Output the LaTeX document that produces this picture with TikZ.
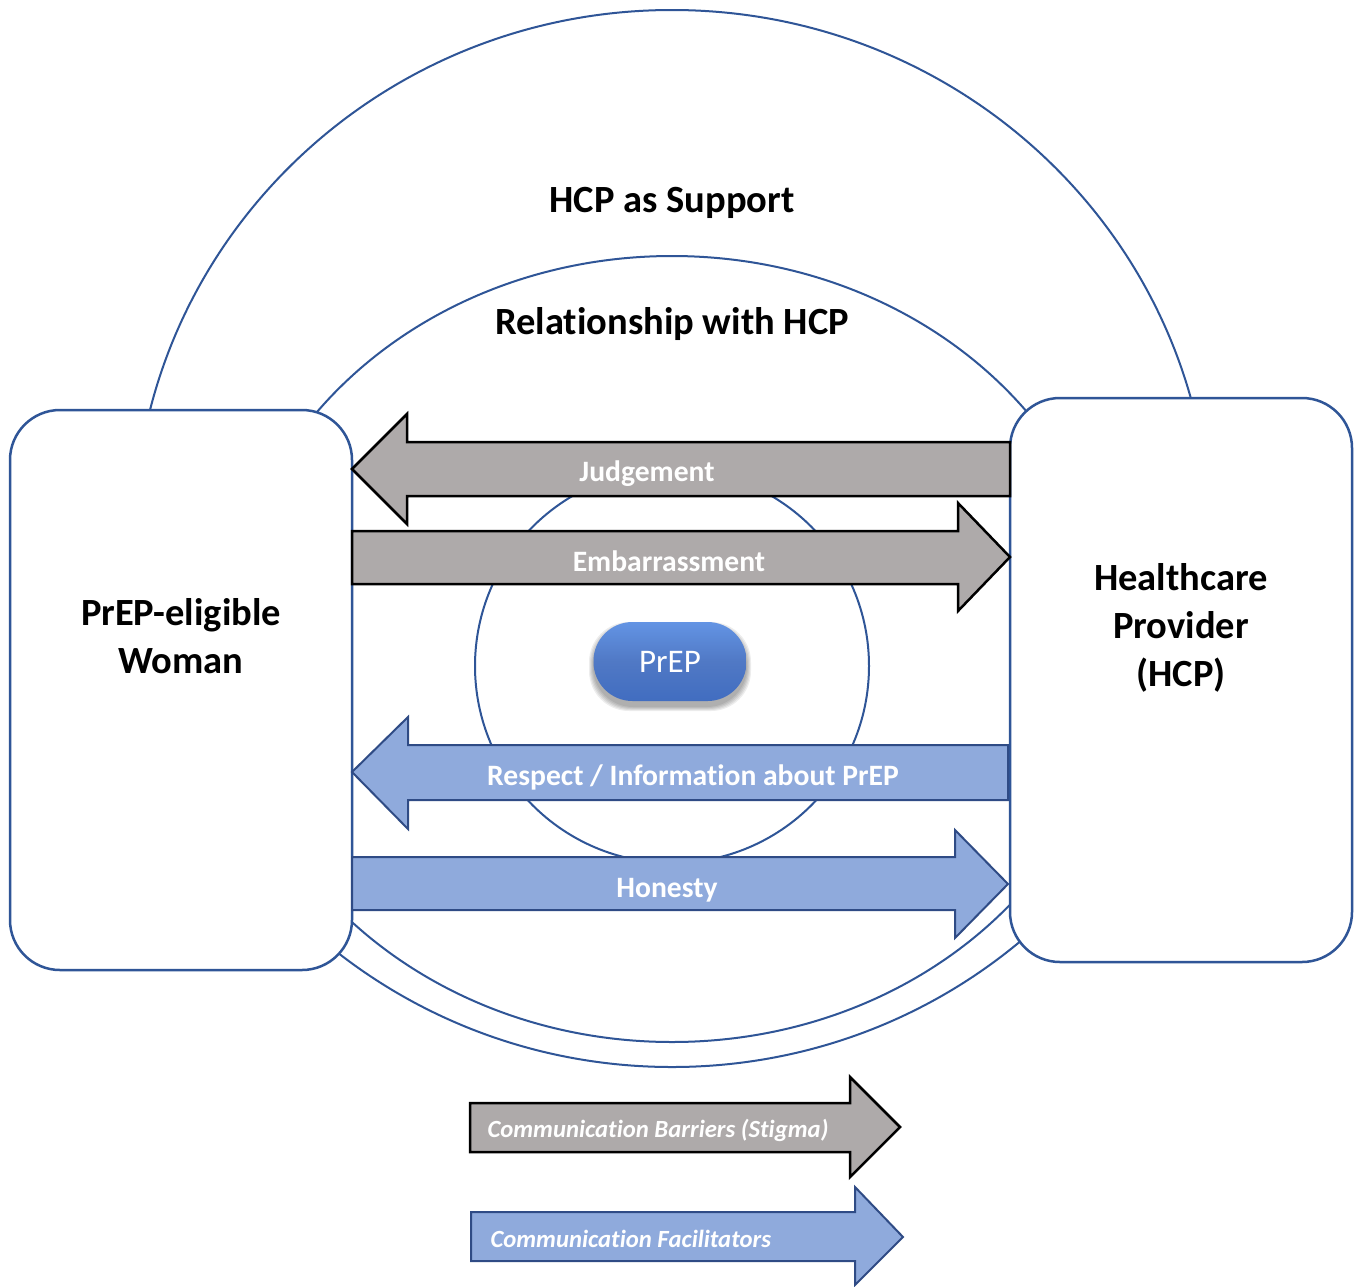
\documentclass[tikz,border=0pt]{standalone}
\usepackage{fontspec}
\setmainfont{Carlito}[Ligatures={NoCommon}]
\definecolor{ringblue}{HTML}{2F5597}
\definecolor{gfill}{HTML}{AEAAAA}
\definecolor{bfill}{HTML}{8FAADC}
\definecolor{bline}{HTML}{2F4B85}
\definecolor{pilltop}{HTML}{6394E4}
\definecolor{pillbot}{HTML}{416DC0}
\begin{document}
\begin{tikzpicture}[x=1pt,y=-1pt,
  ring/.style={draw=ringblue, line width=2pt},
  sidebox/.style={draw=ringblue, line width=2.5pt, fill=white, rounded corners=50pt},
  grayarrow/.style={draw=black, line width=2.5pt, fill=gfill, line join=miter},
  bluearrow/.style={draw=bline, line width=2pt, fill=bfill, line join=miter},
  title/.style={font=\fontsize{38.5}{48}\selectfont\bfseries, align=center},
  arrlabel/.style={font=\fontsize{29.6}{34}\selectfont\bfseries, text=white},
  leglabel/.style={font=\fontsize{24.7}{30}\selectfont\bfseries\itshape, text=white, anchor=west},
  pillshadow/.style={fill=black, fill opacity=0.07, rounded corners=40pt},
  pill/.style={minimum width=153pt, minimum height=79pt, rounded corners=39pt,
    top color=pilltop, bottom color=pillbot, middle color=pillbot!92!white,
    text=white, inner sep=0pt, font=\fontsize{33}{38}\selectfont}
]
\useasboundingbox (0,0) rectangle (1360,1286);
\fill[white] (0,0) rectangle (1360,1286);

% rings
\draw[ring] (672,538.5) ellipse [x radius=538, y radius=528.5];
\draw[ring] (672,649) ellipse [x radius=445, y radius=393];
\draw[ring] (672,666) circle [radius=197];

% side boxes
\node[sidebox, minimum width=342pt, minimum height=560pt] (woman) at (181,690) {};
\node[sidebox, minimum width=342pt, minimum height=564pt] (hcp) at (1181,680) {};
\node[title] (womanlab) at (181,636) {PrEP-eligible\\Woman};
\node[title] (hcplab) at (1181,627.5) {Healthcare\\Provider\\(HCP)};

% ring titles
\node[title] (support) at (672,203) {HCP as Support};
\node[title] (relation) at (672,324) {Relationship with HCP};

% arrows
\draw[grayarrow] (1010,442) -- (407,442) -- (407,414) -- (352,469) -- (407,524) -- (407,496) -- (1010,496) -- cycle;
\node[arrlabel] (judg) at (647,474) {Judgement};
\draw[grayarrow] (352,531) -- (958,531) -- (958,503) -- (1010,557) -- (958,611) -- (958,584) -- (352,584) -- cycle;
\node[arrlabel] (emb) at (669,561) {Embarrassment};
\draw[bluearrow] (1008,745) -- (408,745) -- (408,717) -- (352,772) -- (408,829) -- (408,800) -- (1008,800) -- cycle;
\node[arrlabel] (resp) at (693,777) {Respect / Information about PrEP};
\draw[bluearrow] (352,857) -- (955,857) -- (955,830) -- (1008,884) -- (955,938) -- (955,910) -- (352,910) -- cycle;
\node[arrlabel] (hon) at (667,890) {Honesty};

% pill with soft shadow
\foreach \g in {1,...,5}{
  \fill[pillshadow] (594-\g,627-\g) rectangle (746+\g,706+\g);
}
\node[pill] (prep) at (670,661.5) {PrEP};

% legend
\draw[grayarrow] (470,1103) -- (850,1103) -- (850,1077) -- (900,1127) -- (850,1177) -- (850,1152) -- (470,1152) -- cycle;
\node[leglabel] (legbar) at (484,1130) {Communication Barriers (Stigma)};
\draw[bluearrow] (471,1212) -- (855,1212) -- (855,1187) -- (903,1237) -- (855,1285) -- (855,1261) -- (471,1261) -- cycle;
\node[leglabel] (legfac) at (487,1239) {Communication Facilitators};
\end{tikzpicture}
\end{document}
